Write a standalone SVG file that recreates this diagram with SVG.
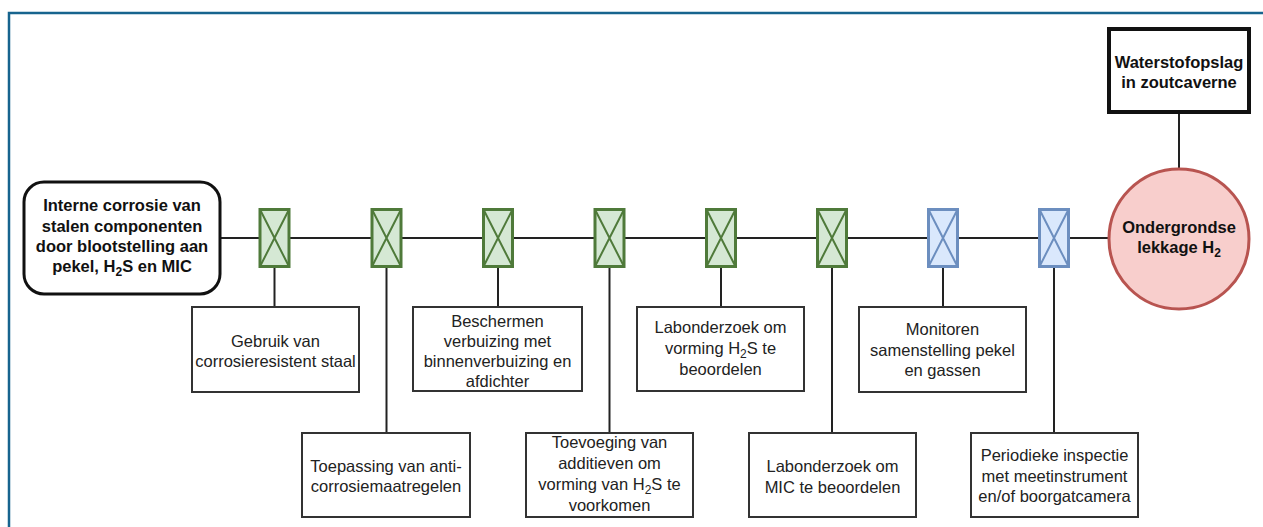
<svg xmlns="http://www.w3.org/2000/svg" width="1263" height="527" viewBox="0 0 1263 527">
<style>
text{font-family:"Liberation Sans",Arial,sans-serif;font-size:16.5px;fill:#222;text-anchor:middle}
.b{font-weight:bold;fill:#111}
.box{fill:#fff;stroke:#333;stroke-width:2}
.g{fill:#d5e8d4;stroke:#4f7a3a;stroke-width:3}
.bl{fill:#dae8fc;stroke:#6c8ebf;stroke-width:3}
.x{stroke-width:2;fill:none}
.c{stroke:#222;stroke-width:2;fill:none}
</style>
<rect x="9" y="13" width="1300" height="600" fill="none" stroke="#17648e" stroke-width="2.5"/>
<g id="connectors">
<path class="c" d="M220 238H1108"/>
<path class="c" d="M1179 113V168"/>
<path class="c" d="M274.5 267V307"/>
<path class="c" d="M386.5 267V433"/>
<path class="c" d="M498 267V307"/>
<path class="c" d="M609.5 267V433"/>
<path class="c" d="M721 267V307"/>
<path class="c" d="M832 267V433"/>
<path class="c" d="M943 267V307"/>
<path class="c" d="M1054 267V433"/>
</g>
<g id="source">
<rect x="24" y="182" width="196" height="112" rx="20" fill="#fff" stroke="#111" stroke-width="3"/>
<text class="b" x="122" y="211">Interne corrosie van</text>
<text class="b" x="122" y="232">stalen componenten</text>
<text class="b" x="122" y="252">door blootstelling aan</text>
<text class="b" x="122" y="272">pekel, H<tspan dy="4" font-size="12">2</tspan><tspan dy="-4">S en MIC</tspan></text>
</g>
<g id="top">
<rect x="1109" y="29" width="140" height="83" fill="#fff" stroke="#111" stroke-width="4"/>
<text class="b" x="1179" y="68">Waterstofopslag</text>
<text class="b" x="1179" y="87.5">in zoutcaverne</text>
</g>
<g id="event">
<circle cx="1179" cy="239" r="70" fill="#f8cecc" stroke="#b85450" stroke-width="3"/>
<text class="b" x="1179" y="233">Ondergrondse</text>
<text class="b" x="1179" y="253">lekkage H<tspan dy="4" font-size="12">2</tspan></text>
</g>
<g id="b1"><rect class="g" x="260" y="209.5" width="29" height="57"/><path class="x" stroke="#4f7a3a" d="M260 209.5L289 266.5M289 209.5L260 266.5"/></g>
<g id="b2"><rect class="g" x="372" y="209.5" width="29" height="57"/><path class="x" stroke="#4f7a3a" d="M372 209.5L401 266.5M401 209.5L372 266.5"/></g>
<g id="b3"><rect class="g" x="483.5" y="209.5" width="29" height="57"/><path class="x" stroke="#4f7a3a" d="M483.5 209.5L512.5 266.5M512.5 209.5L483.5 266.5"/></g>
<g id="b4"><rect class="g" x="595" y="209.5" width="29" height="57"/><path class="x" stroke="#4f7a3a" d="M595 209.5L624 266.5M624 209.5L595 266.5"/></g>
<g id="b5"><rect class="g" x="706.5" y="209.5" width="29" height="57"/><path class="x" stroke="#4f7a3a" d="M706.5 209.5L735.5 266.5M735.5 209.5L706.5 266.5"/></g>
<g id="b6"><rect class="g" x="817.5" y="209.5" width="29" height="57"/><path class="x" stroke="#4f7a3a" d="M817.5 209.5L846.5 266.5M846.5 209.5L817.5 266.5"/></g>
<g id="b7"><rect class="bl" x="928.5" y="209.5" width="29" height="57"/><path class="x" stroke="#6c8ebf" d="M928.5 209.5L957.5 266.5M957.5 209.5L928.5 266.5"/></g>
<g id="b8"><rect class="bl" x="1039.5" y="209.5" width="29" height="57"/><path class="x" stroke="#6c8ebf" d="M1039.5 209.5L1068.5 266.5M1068.5 209.5L1039.5 266.5"/></g>
<g id="m1">
<rect class="box" x="192" y="307" width="167" height="85"/>
<text x="275.5" y="347">Gebruik van</text>
<text x="275.5" y="367">corrosieresistent staal</text>
</g>
<g id="m2">
<rect class="box" x="302" y="433" width="168" height="84"/>
<text x="386" y="472">Toepassing van anti-</text>
<text x="386" y="492">corrosiemaatregelen</text>
</g>
<g id="m3">
<rect class="box" x="413" y="307" width="169" height="84"/>
<text x="497.5" y="327">Beschermen</text>
<text x="497.5" y="347">verbuizing met</text>
<text x="497.5" y="367">binnenverbuizing en</text>
<text x="497.5" y="387">afdichter</text>
</g>
<g id="m4">
<rect class="box" x="526" y="433" width="167" height="84"/>
<text x="609.5" y="448">Toevoeging van</text>
<text x="609.5" y="469">additieven om</text>
<text x="609.5" y="490">vorming van H<tspan dy="4" font-size="12">2</tspan><tspan dy="-4">S te</tspan></text>
<text x="609.5" y="511">voorkomen</text>
</g>
<g id="m5">
<rect class="box" x="637" y="307" width="167" height="84"/>
<text x="720.5" y="333">Labonderzoek om</text>
<text x="720.5" y="354">vorming H<tspan dy="4" font-size="12">2</tspan><tspan dy="-4">S te</tspan></text>
<text x="720.5" y="375">beoordelen</text>
</g>
<g id="m6">
<rect class="box" x="749" y="433" width="167" height="84"/>
<text x="832.5" y="472">Labonderzoek om</text>
<text x="832.5" y="493">MIC te beoordelen</text>
</g>
<g id="m7">
<rect class="box" x="859" y="307" width="167" height="85"/>
<text x="942.5" y="335">Monitoren</text>
<text x="942.5" y="356">samenstelling pekel</text>
<text x="942.5" y="376">en gassen</text>
</g>
<g id="m8">
<rect class="box" x="971" y="433" width="167" height="84"/>
<text x="1054.5" y="461">Periodieke inspectie</text>
<text x="1054.5" y="482">met meetinstrument</text>
<text x="1054.5" y="502">en/of boorgatcamera</text>
</g>
</svg>
